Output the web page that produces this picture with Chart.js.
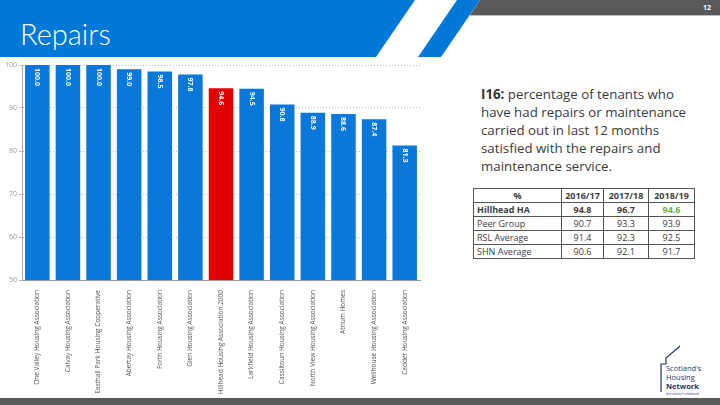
<!DOCTYPE html>
<html>
<head>
<meta charset="utf-8">
<script src="https://cdn.jsdelivr.net/npm/chart.js@4.4.1/dist/chart.umd.min.js"></script>
<style>
  html, body { margin: 0; padding: 0; }
  body { width: 720px; height: 405px; position: relative; overflow: hidden; background: #fff; font-family: "Open Sans", sans-serif; }
  #deco { position: absolute; left: 0; top: 0; }
  #title { position: absolute; left: 20px; top: 16px; color: #fff; font-family: Lato, sans-serif; font-weight: 300; font-size: 29px; }
  #page { position: absolute; left: 703px; top: 3px; color: #fff; font-size: 7px; font-weight: bold; }
  #chartBox { position: absolute; left: 0; top: 58px; width: 425px; height: 340px; }
  #desc { position: absolute; left: 481px; top: 85px; width: 216px; color: #3a3a3a; font-size: 13.3px; line-height: 18px; }
  #desc b { color: #333; }
  #tbl { position: absolute; left: 473px; top: 188px; border-collapse: collapse; font-size: 9px; color: #404040; }
  #tbl td { border: 1px solid #555; height: 13px; padding: 0 3px; line-height: 13px; }
  #tbl td.num { text-align: center; }
  #tbl tr.main td, #tbl tr.head td.num { font-weight: bold; }
  .bottom { position: absolute; left: 0; top: 398px; width: 720px; height: 7px; background: #595959; }
</style>
</head>
<body>
<svg id="deco" width="720" height="405">
  <polygon points="0,0 415,0 376,57 0,57" fill="#0078D7"/>
  <polygon points="457,0 480,0 441,57 418,57" fill="#0078D7"/>
  <polygon points="480,0 720,0 720,15 470,15" fill="#595959"/>
  <line x1="470" y1="15.5" x2="720" y2="15.5" stroke="#bbb" stroke-width="1"/>
  <!-- logo -->
  <polyline points="661,392 661,364 666,364 666,358 680,346" fill="none" stroke="#1f3864" stroke-width="1.2"/>
  <text x="666" y="371" font-size="7.5" fill="#1f3864" font-family="Open Sans">Scotland's</text>
  <text x="666" y="380" font-size="7.5" fill="#1f3864" font-family="Open Sans">Housing</text>
  <text x="666" y="389" font-size="7.5" font-weight="bold" fill="#1f3864" font-family="Open Sans">Network</text>
  <text x="666" y="395" font-size="3.5" fill="#1f3864" font-family="Open Sans">the sector's network</text>
</svg>
<div id="title">Repairs</div>
<div id="page">12</div>
<div id="chartBox"><canvas id="chart"></canvas></div>
<div id="desc"><b>I16:</b> percentage of tenants who have had repairs or maintenance carried out in last 12 months satisfied with the repairs and maintenance service.</div>
<table id="tbl"></table>
<div class="bottom"></div>
<script>
const categories = [
  'One Valley Housing Association',
  'Calvay Housing Association',
  'Easthall Park Housing Cooperative',
  'Abertay Housing Association',
  'Forth Housing Association',
  'Glen Housing Association',
  'Hillhead Housing Association 2000',
  'Larkfield Housing Association',
  'Cassiltoun Housing Association',
  'North View Housing Association',
  'Atrium Homes',
  'Wellhouse Housing Association',
  'Cadder Housing Association'
];
const scores = [100.0, 100.0, 100.0, 99.0, 98.5, 97.8, 94.6, 94.5, 90.8, 88.9, 88.6, 87.4, 81.3];
const highlight = 'Hillhead Housing Association 2000';

const years = ['2016/17', '2017/18', '2018/19'];
const rowNames = ['Hillhead HA', 'Peer Group', 'RSL Average', 'SHN Average'];
const hillhead = [94.8, 96.7, 94.6];
const peerGroup = [90.7, 93.3, 93.9];
const rslAverage = [91.4, 92.3, 92.5];
const shnAverage = [90.6, 92.1, 91.7];

// table
const tbl = document.getElementById('tbl');
const colW = [88, 42, 45, 46];
let html = '<tr class="head"><td class="num" style="width:' + (colW[0] - 7) + 'px">%</td>';
years.forEach((y, i) => { html += '<td class="num" style="width:' + (colW[i + 1] - 7) + 'px">' + y + '</td>'; });
html += '</tr>';
[hillhead, peerGroup, rslAverage, shnAverage].forEach((vals, r) => {
  html += '<tr' + (r === 0 ? ' class="main"' : '') + '><td>' + rowNames[r] + '</td>';
  vals.forEach((v, i) => {
    const style = (r === 0 && i === 2) ? ' style="color:#70AD47"' : '';
    html += '<td class="num"' + style + '>' + v.toFixed(1) + '</td>';
  });
  html += '</tr>';
});
tbl.innerHTML = html;

// value labels inside bars, rotated
const barLabels = {
  id: 'barLabels',
  afterDatasetsDraw(chart) {
    const ctx = chart.ctx;
    const meta = chart.getDatasetMeta(0);
    ctx.save();
    ctx.fillStyle = '#fff';
    ctx.font = 'bold 7px "Open Sans"';
    ctx.textAlign = 'left';
    ctx.textBaseline = 'middle';
    meta.data.forEach((bar, i) => {
      ctx.save();
      ctx.translate(bar.x, bar.y + 3);
      ctx.rotate(Math.PI / 2);
      ctx.fillText(scores[i].toFixed(1), 0, 0);
      ctx.restore();
    });
    ctx.restore();
  }
};

new Chart(document.getElementById('chart'), {
  type: 'bar',
  data: {
    labels: categories,
    datasets: [{
      data: scores,
      backgroundColor: categories.map(c => c === highlight ? '#E00000' : '#0A78D8'),
      borderWidth: 0,
      barPercentage: 0.8,
      categoryPercentage: 1
    }]
  },
  options: {
    responsive: true,
    maintainAspectRatio: false,
    animation: false,
    layout: { padding: { top: 7, right: 5 } },
    plugins: { legend: { display: false }, tooltip: { enabled: false } },
    scales: {
      x: {
        grid: { display: false },
        border: { color: '#999' },
        ticks: {
          minRotation: 90, maxRotation: 90, autoSkip: false,
          color: '#555', font: { family: 'Open Sans', size: 6.5 }, padding: 2
        },
        afterFit(scale) { scale.height = 118; }
      },
      y: {
        min: 50, max: 100,
        ticks: { stepSize: 10, color: '#999', font: { family: 'Open Sans', size: 7 }, padding: 2 },
        grid: { color: '#bbb', tickLength: 3, drawTicks: true },
        border: { color: '#aaa', dash: [1, 2] },
        afterFit(scale) { scale.width = 22; }
      }
    }
  },
  plugins: [barLabels]
});
</script>
</body>
</html>
